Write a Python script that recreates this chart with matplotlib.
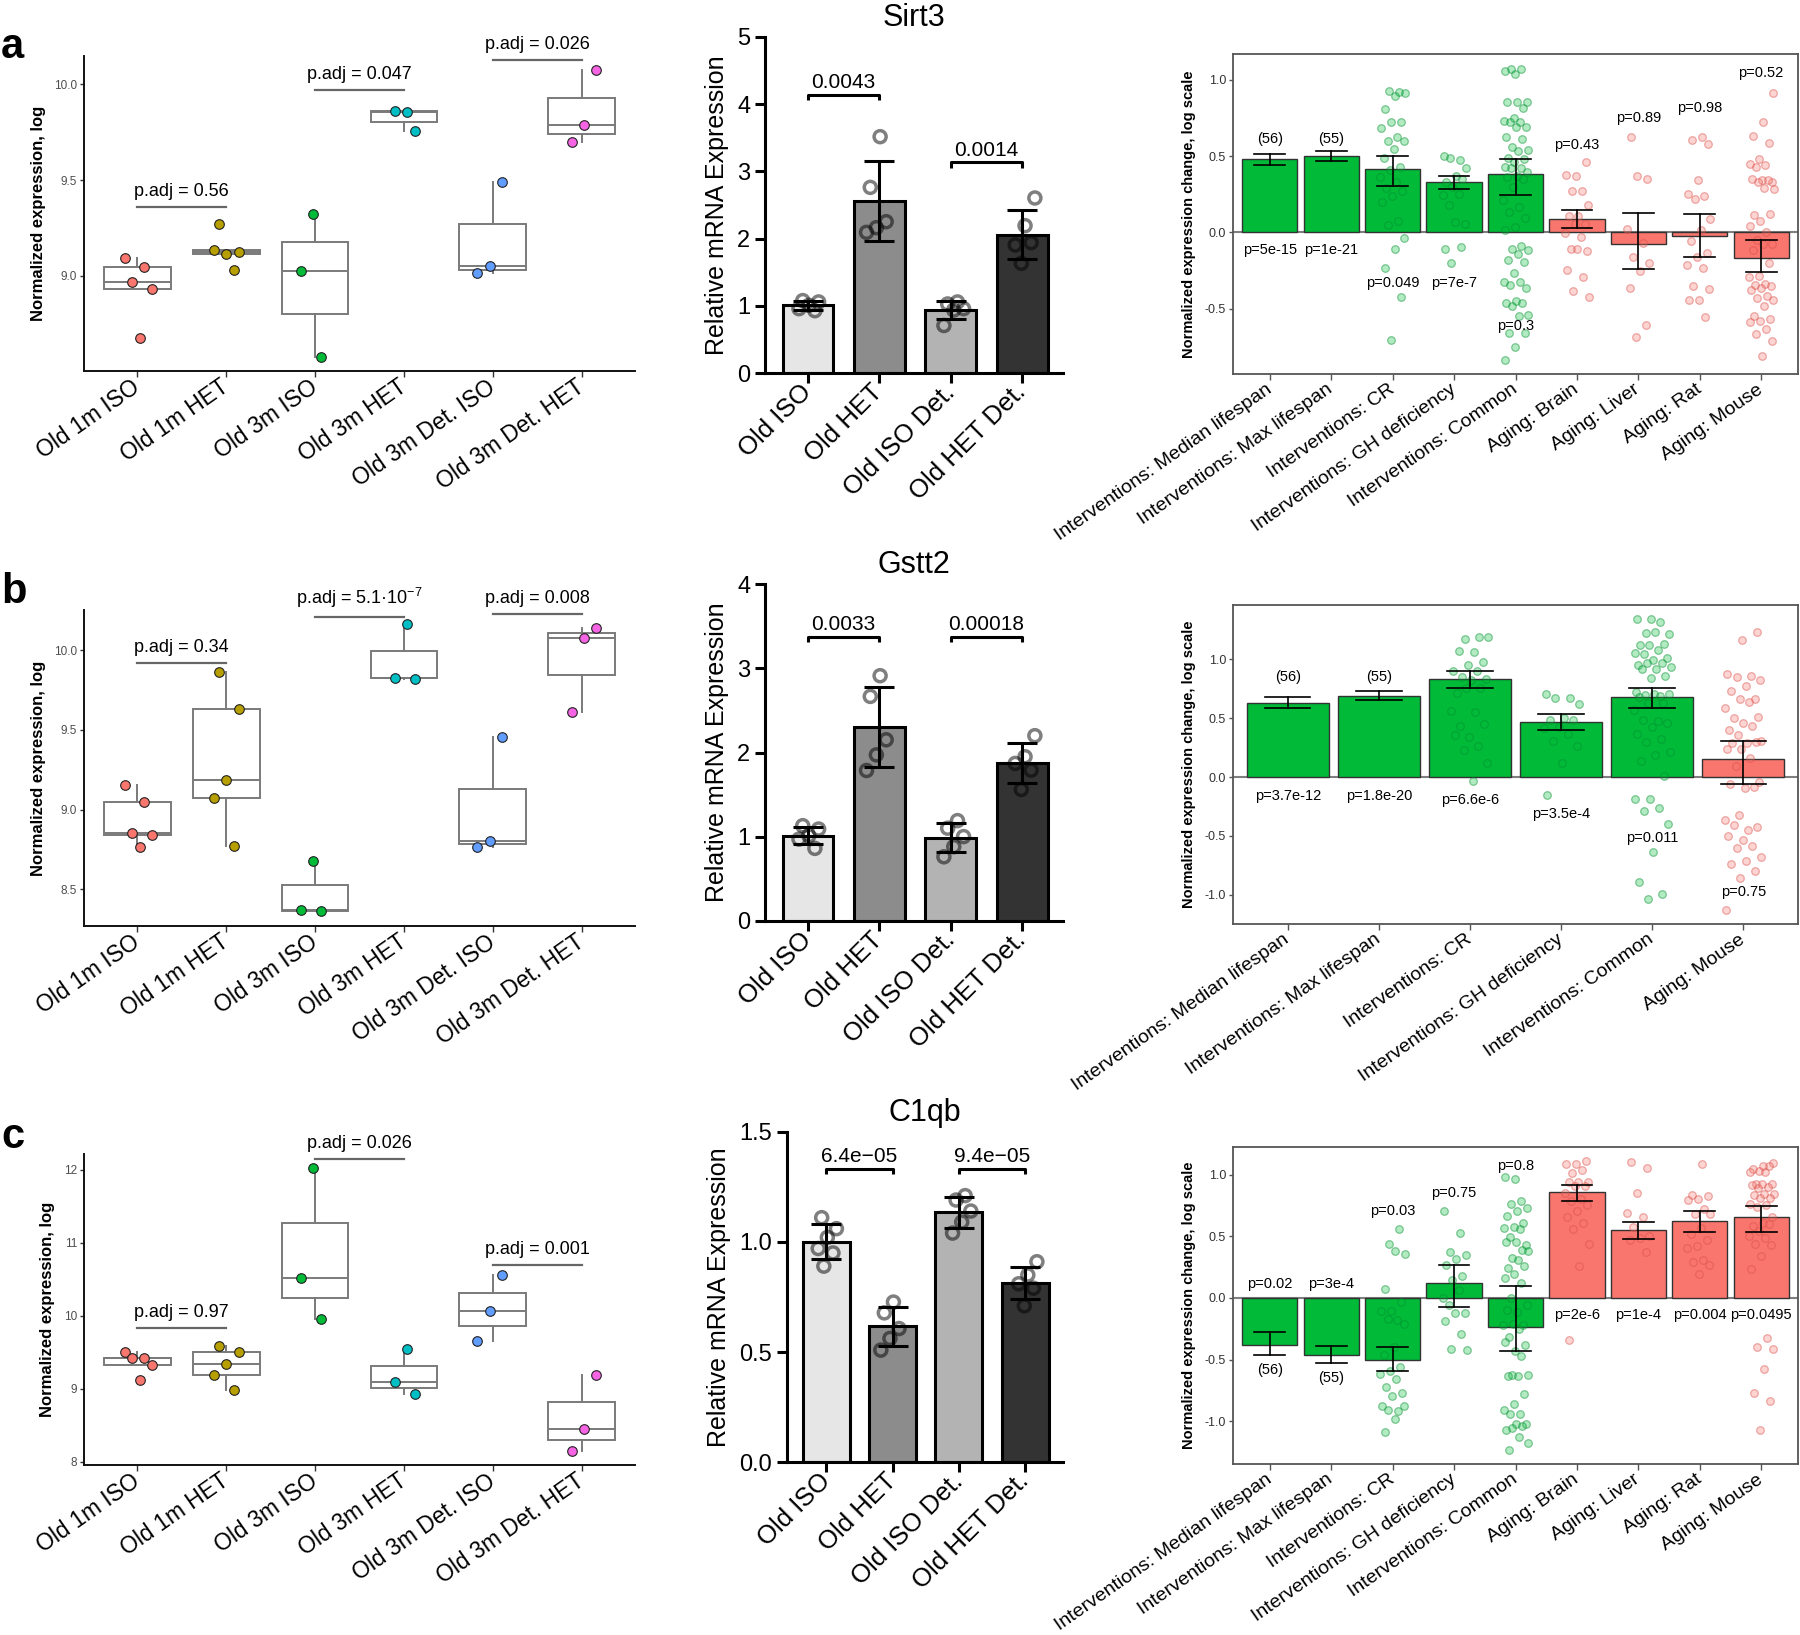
import numpy as np
import matplotlib
matplotlib.use('Agg')
import matplotlib.pyplot as plt

plt.rcParams['font.family'] = ['Liberation Sans', 'DejaVu Sans']
plt.rcParams['mathtext.default'] = 'regular'
plt.rcParams['axes.unicode_minus'] = False

# ---------------- DATA ----------------
groups6 = ['Old 1m ISO', 'Old 1m HET', 'Old 3m ISO', 'Old 3m HET', 'Old 3m Det. ISO', 'Old 3m Det. HET']

la_vals = [[9.096, 9.049, 8.967, 8.934, 8.677],
           [9.273, 9.123, 9.113, 9.134, 9.031],
           [9.325, 9.026, 8.579],
           [9.857, 9.861, 9.755],
           [9.490, 9.052, 9.014],
           [10.073, 9.786, 9.701]]
la_padj = [(0, 1, 9.358, 'p.adj = 0.56'), (2, 3, 9.970, 'p.adj = 0.047'), (4, 5, 10.127, 'p.adj = 0.026')]
la_yticks = [9.0, 9.5, 10.0]
la_ytl = ['9.0', '9.5', '10.0']

lb_vals = [[9.157, 9.046, 8.854, 8.839, 8.764],
           [9.862, 9.628, 9.186, 9.073, 8.772],
           [8.678, 8.370, 8.362],
           [10.163, 9.826, 9.818],
           [9.454, 8.801, 8.768],
           [10.138, 10.073, 9.609]]
lb_padj = [(0, 1, 9.921, 'p.adj = 0.34'), (2, 3, 10.207, 'p.adj = 5.1·10$^{-7}$'), (4, 5, 10.224, 'p.adj = 0.008')]
lb_yticks = [8.5, 9.0, 9.5, 10.0]
lb_ytl = ['8.5', '9.0', '9.5', '10.0']

lc_vals = [[9.502, 9.416, 9.416, 9.320, 9.114],
           [9.584, 9.498, 9.342, 9.183, 8.982],
           [12.018, 10.521, 9.954],
           [9.539, 9.087, 8.922],
           [10.553, 10.068, 9.648],
           [9.192, 8.452, 8.151]]
lc_padj = [(0, 1, 9.826, 'p.adj = 0.97'), (2, 3, 12.151, 'p.adj = 0.026'), (4, 5, 10.689, 'p.adj = 0.001')]
lc_yticks = [8, 9, 10, 11, 12]
lc_ytl = ['8', '9', '10', '11', '12']

groups4 = ['Old ISO', 'Old HET', 'Old ISO Det.', 'Old HET Det.']
ma_pts = [[1.08, 1.06, 1.01, 0.96, 0.93],
          [3.515, 2.762, 2.252, 2.163, 2.094],
          [1.06, 1.03, 0.96, 0.94, 0.71],
          [2.604, 2.193, 1.906, 1.941, 1.634]]
ma_sig = [(0, 1, 4.14, '0.0043'), (2, 3, 3.134, '0.0014')]
mb_pts = [[1.13, 1.09, 1.01, 0.97, 0.86],
          [2.913, 2.667, 2.151, 1.972, 1.786],
          [1.19, 1.10, 1.00, 0.88, 0.76],
          [2.20, 1.95, 1.87, 1.79, 1.56]]
mb_sig = [(0, 1, 3.377, '0.0033'), (2, 3, 3.377, '0.00018')]
mc_pts = [[1.11, 1.06, 1.02, 0.97, 0.95, 0.89],
          [0.727, 0.678, 0.607, 0.562, 0.509],
          [1.21, 1.19, 1.14, 1.09, 1.04],
          [0.91, 0.85, 0.81, 0.79, 0.71]]
mc_sig = [(0, 1, 1.331, '6.4e\u221205'), (2, 3, 1.331, '9.4e\u221205')]

cats9 = ['Interventions: Median lifespan', 'Interventions: Max lifespan', 'Interventions: CR',
         'Interventions: GH deficiency', 'Interventions: Common', 'Aging: Brain', 'Aging: Liver',
         'Aging: Rat', 'Aging: Mouse']
cats6 = ['Interventions: Median lifespan', 'Interventions: Max lifespan', 'Interventions: CR',
         'Interventions: GH deficiency', 'Interventions: Common', 'Aging: Mouse']

ra_mean = [0.483, 0.498, 0.417, 0.328, 0.380, 0.087, -0.076, -0.022, -0.168]
ra_lo = [0.443, 0.469, 0.306, 0.284, 0.247, 0.026, -0.238, -0.159, -0.260]
ra_hi = [0.513, 0.531, 0.504, 0.369, 0.483, 0.144, 0.127, 0.124, -0.052]
ra_counts = ['(56)', '(55)']
ra_count_y = [0.611, 0.611]
ra_p = ['p=5e-15', 'p=1e-21', 'p=0.049', 'p=7e-7', 'p=0.3', 'p=0.43', 'p=0.89', 'p=0.98', 'p=0.52']
ra_p_y = [-0.114, -0.114, -0.332, -0.332, -0.616, 0.572, 0.749, 0.814, 1.044]
ra_pts = [[], [],
          [0.924, 0.930, 0.913, 0.895, 0.808, 0.727, 0.721, 0.688, 0.629, 0.600, 0.600, 0.546, 0.489, 0.426,
           0.410, 0.362, 0.328, 0.290, 0.275, 0.240, 0.199, 0.072, 0.046, -0.037, -0.107, -0.234, -0.426, -0.703],
          [0.498, 0.472, 0.487, 0.421, 0.367, 0.334, 0.349, 0.301, 0.247, 0.253, 0.177, 0.055, 0.070, -0.109,
           -0.098, -0.201],
          [1.037, 1.061, 1.070, 1.070, 0.854, 0.854, 0.856, 0.814, 0.749, 0.731, 0.727, 0.723, 0.694, 0.690,
           0.624, 0.613, 0.559, 0.541, 0.531, 0.487, 0.480, 0.465, 0.432, 0.421, 0.421, 0.395, 0.367, 0.362,
           0.349, 0.301, 0.210, 0.166, 0.133, 0.098, 0.035, 0.017, -0.087, -0.109, -0.114, -0.140, -0.179,
           -0.194, -0.266, -0.325, -0.325, -0.343, -0.365, -0.452, -0.463, -0.463, -0.485, -0.539, -0.550,
           -0.659, -0.659, -0.753, -0.834],
          [0.465, 0.371, 0.378, 0.269, 0.275, 0.177, 0.111, 0.111, 0.057, 0.057, -0.004, -0.031, -0.109,
           -0.120, -0.109, -0.245, -0.295, -0.386, -0.426],
          [0.624, 0.352, 0.367, 0.022, -0.070, -0.162, -0.197, -0.251, -0.365, -0.609, -0.688],
          [0.629, 0.603, 0.581, 0.345, 0.251, 0.242, 0.218, 0.087, 0.017, -0.059, -0.135, -0.162, -0.216,
           -0.234, -0.349, -0.371, -0.441, -0.441, -0.557],
          [0.913, 0.723, 0.635, 0.585, 0.483, 0.448, 0.439, 0.426, 0.328, 0.345, 0.352, 0.345, 0.330, 0.286,
           0.290, 0.116, 0.122, 0.076, 0.044, 0.002, -0.052, -0.074, -0.074, -0.118, -0.197, -0.284, -0.295,
           -0.338, -0.347, -0.354, -0.365, -0.380, -0.415, -0.430, -0.441, -0.485, -0.550, -0.568, -0.583,
           -0.590, -0.631, -0.666, -0.710, -0.808]]

rb_mean = [0.634, 0.693, 0.832, 0.472, 0.682, 0.158]
rb_lo = [0.591, 0.656, 0.761, 0.399, 0.586, -0.057]
rb_hi = [0.679, 0.730, 0.902, 0.537, 0.761, 0.308]
rb_counts = ['(56)', '(55)']
rb_count_y = [0.849, 0.849]
rb_p = ['p=3.7e-12', 'p=1.8e-20', 'p=6.6e-6', 'p=3.5e-4', 'p=0.011', 'p=0.75']
rb_p_y = [-0.158, -0.158, -0.198, -0.311, -0.518, -0.979]
rb_pts = [[], [],
          [1.194, 1.174, 1.194, 1.061, 1.072, 0.980, 0.953, 0.902, 0.905, 0.854, 0.832, 0.826, 0.713, 0.755,
           0.755, 0.563, 0.557, 0.438, 0.453, 0.345, 0.354, 0.266, 0.232, 0.119, -0.031],
          [0.704, 0.670, 0.670, 0.620, 0.501, 0.487, 0.487, 0.424, 0.416, 0.368, 0.303, 0.266, 0.119, -0.150],
          [1.341, 1.341, 1.321, 1.222, 1.214, 1.231, 1.123, 1.129, 1.123, 1.058, 1.081, 1.044, 1.016, 0.996,
           0.953, 0.967, 0.973, 0.939, 0.917, 0.919, 0.863, 0.846, 0.727, 0.690, 0.699, 0.704, 0.704, 0.679,
           0.628, 0.628, 0.571, 0.481, 0.487, 0.458, 0.430, 0.365, 0.322, 0.297, 0.212, 0.190, 0.133, 0.011,
           -0.187, -0.187, -0.263, -0.291, -0.399, -0.636, -0.891, -0.990, -1.035],
          [1.231, 1.165, 0.874, 0.860, 0.854, 0.826, 0.775, 0.735, 0.665, 0.665, 0.586, 0.642, 0.501, 0.509,
           0.464, 0.402, 0.436, 0.359, 0.303, 0.294, 0.289, 0.297, 0.238, 0.238, 0.161, 0.099, -0.045, -0.093,
           -0.059, -0.085, -0.320, -0.362, -0.453, -0.405, -0.424, -0.537, -0.504, -0.583, -0.603, -0.679,
           -0.710, -0.736, -0.801, -0.857, -1.126]]

rc_mean = [-0.381, -0.465, -0.505, 0.122, -0.238, 0.857, 0.549, 0.627, 0.654]
rc_lo = [-0.465, -0.527, -0.595, -0.073, -0.432, 0.784, 0.478, 0.535, 0.538]
rc_hi = [-0.276, -0.386, -0.397, 0.268, 0.100, 0.914, 0.614, 0.703, 0.746]
rc_counts = ['(56)', '(55)']
rc_count_y = [-0.586, -0.649]
rc_p = ['p=0.02', 'p=3e-4', 'p=0.03', 'p=0.75', 'p=0.8', 'p=2e-6', 'p=1e-4', 'p=0.004', 'p=0.0495']
rc_p_y = [0.116, 0.116, 0.703, 0.851, 1.073, -0.135, -0.135, -0.135, -0.135]
rc_pts = [[], [],
          [0.562, 0.441, 0.357, 0.378, 0.073, -0.032, -0.103, -0.108, -0.181, -0.168, -0.208, -0.397, -0.459,
           -0.559, -0.595, -0.616, -0.654, -0.724, -0.770, -0.797, -0.878, -0.914, -0.905, -0.873, -0.978,
           -1.086],
          [0.703, 0.527, 0.373, 0.351, 0.319, 0.270, 0.176, 0.149, 0.0, 0.062, -0.054, -0.122, -0.122, -0.184,
           -0.292, -0.411, -0.419],
          [0.965, 0.978, 0.784, 0.765, 0.730, 0.703, 0.662, 0.608, 0.573, 0.568, 0.562, 0.495, 0.432, 0.451,
           0.451, 0.386, 0.324, 0.378, 0.305, 0.243, 0.257, 0.197, 0.162, 0.122, 0.0, -0.054, -0.114, -0.100,
           -0.216, -0.211, -0.216, -0.251, -0.316, -0.378, -0.432, -0.357, -0.473, -0.622, -0.622, -0.635,
           -0.635, -0.778, -0.859, -0.911, -0.941, -0.938, -1.022, -1.019, -1.068, -1.035, -1.054, -1.176,
           -1.127, -1.235],
          [1.108, 1.086, 1.086, 1.041, 1.014, 0.941, 0.941, 0.941, 0.905, 0.905, 0.851, 0.803, 0.789, 0.757,
           0.708, 0.657, 0.608, 0.562, 0.441, 0.262, -0.343],
          [1.103, 1.054, 0.851, 0.689, 0.654, 0.576, 0.5, 0.486, 0.468, 0.373],
          [1.086, 0.838, 0.824, 0.803, 0.797, 0.722, 0.681, 0.681, 0.568, 0.519, 0.473, 0.419, 0.405, 0.311,
           0.289, 0.265, 0.195],
          [1.095, 1.068, 1.046, 1.073, 1.027, 1.022, 1.019, 0.927, 0.927, 0.924, 0.919, 0.900, 0.892, 0.846,
           0.846, 0.838, 0.811, 0.811, 0.765, 0.751, 0.738, 0.657, 0.608, 0.581, 0.600, 0.541, 0.5, 0.486,
           0.438, 0.432, 0.343, 0.235, -0.324, -0.397, -0.414, -0.576, -0.770, -0.832, -1.073]]

kind9 = ['int'] * 5 + ['aging'] * 4
kind6 = ['int'] * 5 + ['aging']

# ---------------- STYLE ----------------
HUE6 = ['#F8766D', '#B79F00', '#00BA38', '#00BFC4', '#619CFF', '#F564E3']
MID_COLS = ['#e6e6e6', '#8c8c8c', '#b3b3b3', '#333333']
GREEN = '#00BA38'
RED = '#F8766D'

W, H = 1800, 1635
fig = plt.figure(figsize=(W / 100, H / 100), dpi=100)


def fax(l, t, r, b):
    return fig.add_axes([l / W, 1 - b / H, (r - l) / W, (b - t) / H])


def jitter(n, width, phase=0.0):
    return ((np.arange(n) * 0.618034 + phase) % 1.0 - 0.5) * width


def left_panel(ax, vals, ylim, yticks, ytl, padj):
    pos = np.arange(1, len(vals) + 1)
    gc = '#7a7a7a'
    ax.boxplot(vals, positions=pos, widths=0.75, showfliers=False, whis=1.5, patch_artist=True,
               showcaps=False,
               boxprops=dict(facecolor='white', edgecolor=gc, linewidth=1.4),
               medianprops=dict(color=gc, linewidth=1.4),
               whiskerprops=dict(color=gc, linewidth=1.4), zorder=2)
    for i, v in enumerate(vals):
        xs = pos[i] + jitter(len(v), 0.36, 0.17 * i + 0.1)
        ax.scatter(xs, v, s=48, color=HUE6[i], edgecolors='#222222', linewidths=0.8, zorder=3)
    for i, j, y, txt in padj:
        ax.plot([pos[i], pos[j]], [y, y], color='#666666', lw=1.6, zorder=2)
        ax.annotate(txt, ((pos[i] + pos[j]) / 2, y), xytext=(0, 5), textcoords='offset points',
                    ha='center', va='bottom', fontsize=13)
    ax.set_xlim(0.4, 6.6)
    ax.set_ylim(*ylim)
    ax.set_yticks(yticks)
    ax.set_yticklabels(ytl)
    ax.set_xticks(pos)
    ax.set_xticklabels(groups6, rotation=35, ha='right', va='center', rotation_mode='anchor', fontsize=16.5)
    for s in ['top', 'right']:
        ax.spines[s].set_visible(False)
    for s in ['left', 'bottom']:
        ax.spines[s].set_linewidth(1.4)
        ax.spines[s].set_color('#111111')
    ax.tick_params(axis='y', labelsize=8.5, labelcolor='#4d4d4d', length=3, width=1, color='#333333', pad=2)
    ax.tick_params(axis='x', length=4, width=1, color='#333333', pad=6)
    ax.set_ylabel('Normalized expression, log', fontsize=12, fontweight='bold', labelpad=6)


def mid_panel(ax, pts, ymax, yticks, ytl, sig, title, drop):
    x = np.arange(len(pts))
    means = [np.mean(p) for p in pts]
    sds = [np.std(p, ddof=1) for p in pts]
    ax.bar(x, means, width=0.71, color=MID_COLS, edgecolor='black', linewidth=2.2, zorder=1)
    for i, p in enumerate(pts):
        xs = x[i] + jitter(len(p), 0.36, 0.23 * i + 0.3)
        ax.scatter(xs, p, s=75, facecolors='none', edgecolors=(0, 0, 0, 0.5), linewidths=2.5, zorder=2)
    ax.errorbar(x, means, yerr=sds, fmt='none', ecolor='black', elinewidth=2.2, capsize=10.5,
                capthick=2.2, zorder=3)
    for i, j, y, txt in sig:
        ax.plot([x[i], x[i], x[j], x[j]], [y - drop, y, y, y - drop], color='black', lw=2.2,
                solid_capstyle='butt', zorder=3)
        ax.annotate(txt, ((x[i] + x[j]) / 2, y), xytext=(0, 2), textcoords='offset points',
                    ha='center', va='bottom', fontsize=15)
    ax.set_xlim(-0.6, 3.57)
    ax.set_ylim(0, ymax)
    ax.set_yticks(yticks)
    ax.set_yticklabels(ytl)
    ax.set_xticks(x)
    ax.set_xticklabels(groups4, rotation=45, ha='right', va='center', rotation_mode='anchor', fontsize=18.5)
    for s in ['top', 'right']:
        ax.spines[s].set_visible(False)
    for s in ['left', 'bottom']:
        ax.spines[s].set_linewidth(2.2)
    ax.tick_params(axis='both', length=7, width=2.2)
    ax.tick_params(axis='y', labelsize=17)
    ax.tick_params(axis='x', pad=4)
    ax.set_ylabel('Relative mRNA Expression', fontsize=18, labelpad=6)
    ax.set_title(title, fontsize=22, pad=8)


def right_panel(ax, cats, kind, mean, lo, hi, pts, counts, count_y, ptxt, ptxt_y, ylim, yticks, ytl):
    x = np.arange(1, len(cats) + 1)
    cols = [GREEN if k == 'int' else RED for k in kind]
    ax.axhline(0, color='#7f7f7f', lw=1.5, zorder=0.5)
    ax.bar(x, mean, width=0.9, color=cols, edgecolor='#333333', linewidth=1.0, zorder=1)
    for i, p in enumerate(pts):
        if len(p) == 0:
            continue
        xs = x[i] + jitter(len(p), 0.42, 0.37 * i)
        if kind[i] == 'int':
            fc, ec = (0.0, 0.73, 0.22, 0.3), (0.0, 0.55, 0.18, 0.45)
        else:
            fc, ec = (0.97, 0.46, 0.43, 0.3), (0.85, 0.3, 0.28, 0.45)
        ax.scatter(xs, p, s=30, facecolors=fc, edgecolors=ec, linewidths=0.9, zorder=2)
    for i in range(len(cats)):
        ax.plot([x[i], x[i]], [lo[i], hi[i]], color='black', lw=1.2, zorder=3)
        ax.plot([x[i] - 0.25, x[i] + 0.25], [lo[i], lo[i]], color='black', lw=1.2, zorder=3)
        ax.plot([x[i] - 0.25, x[i] + 0.25], [hi[i], hi[i]], color='black', lw=1.2, zorder=3)
    for i, (t, y) in enumerate(zip(counts, count_y)):
        ax.text(x[i], y, t, ha='center', va='center', fontsize=10.5, zorder=4)
    for i, (t, y) in enumerate(zip(ptxt, ptxt_y)):
        ax.text(x[i], y, t, ha='center', va='center', fontsize=10.5, zorder=4)
    ax.set_xlim(0.4, len(cats) + 0.6)
    ax.set_ylim(*ylim)
    ax.set_yticks(yticks)
    ax.set_yticklabels(ytl)
    ax.set_xticks(x)
    ax.set_xticklabels(cats, rotation=35, ha='right', va='center', rotation_mode='anchor', fontsize=14)
    for s in ax.spines.values():
        s.set_linewidth(1.3)
        s.set_color('#555555')
    ax.tick_params(axis='y', labelsize=9, labelcolor='#333333', length=3, width=1, color='#555555', pad=2)
    ax.tick_params(axis='x', length=4, width=1, color='#555555', pad=6)
    ax.set_ylabel('Normalized expression change, log scale', fontsize=10.5, fontweight='bold', labelpad=6)


# ---------------- ROW a ----------------
left_panel(fax(84, 56, 635, 371), la_vals, (8.504, 10.148), la_yticks, la_ytl, la_padj)
mid_panel(fax(765, 36.7, 1063, 373.3), ma_pts, 5, [0, 1, 2, 3, 4, 5], ['0', '1', '2', '3', '4', '5'],
          ma_sig, 'Sirt3', 0.08)
right_panel(fax(1233, 54, 1798, 374), cats9, kind9, ra_mean, ra_lo, ra_hi, ra_pts, ra_counts, ra_count_y,
            ra_p, ra_p_y, (-0.928, 1.170), [-0.5, 0.0, 0.5, 1.0], ['-0.5', '0.0', '0.5', '1.0'])

# ---------------- ROW b ----------------
left_panel(fax(84, 610, 635, 926), lb_vals, (8.270, 10.251), lb_yticks, lb_ytl, lb_padj)
mid_panel(fax(765, 584.3, 1063, 920.7), mb_pts, 4, [0, 1, 2, 3, 4], ['0', '1', '2', '3', '4'],
          mb_sig, 'Gstt2', 0.064)
right_panel(fax(1233, 605, 1798, 924), cats6, kind6, rb_mean, rb_lo, rb_hi, rb_pts, rb_counts, rb_count_y,
            rb_p, rb_p_y, (-1.248, 1.463), [-1.0, -0.5, 0.0, 0.5, 1.0], ['-1.0', '-0.5', '0.0', '0.5', '1.0'])

# ---------------- ROW c ----------------
left_panel(fax(84, 1154, 635, 1465), lc_vals, (7.954, 12.215), lc_yticks, lc_ytl, lc_padj)
mid_panel(fax(786.7, 1131.7, 1063, 1462.3), mc_pts, 1.5, [0, 0.5, 1.0, 1.5], ['0.0', '0.5', '1.0', '1.5'],
          mc_sig, 'C1qb', 0.024)
right_panel(fax(1233, 1147, 1798, 1464), cats9, kind9, rc_mean, rc_lo, rc_hi, rc_pts, rc_counts, rc_count_y,
            rc_p, rc_p_y, (-1.346, 1.224), [-1.0, -0.5, 0.0, 0.5, 1.0], ['-1.0', '-0.5', '0.0', '0.5', '1.0'])

# panel letters
for letter, yb in [('a', 58), ('b', 603), ('c', 1148)]:
    fig.text(1 / W, 1 - yb / H, letter, fontsize=30, fontweight='bold', ha='left', va='baseline')

fig.savefig('out.png', dpi=100)
